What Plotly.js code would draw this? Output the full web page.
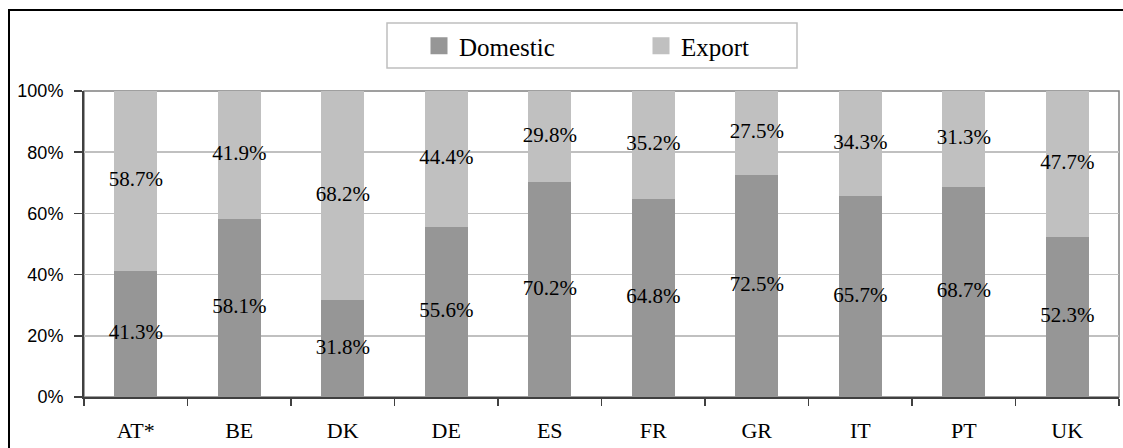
<!DOCTYPE html>
<html>
<head>
<meta charset="utf-8">
<script src="https://cdn.plot.ly/plotly-3.0.1.min.js"></script>
<style>
  html, body { margin: 0; padding: 0; background: #fff; overflow: hidden; }
  #chart { position: absolute; left: 0; top: 0; width: 1123px; height: 448px; }
  #frame { position: absolute; left: 8px; top: 9px; width: 1140px; height: 470px;
           border-left: 2px solid #000; border-top: 2px solid #000; pointer-events: none; }
</style>
</head>
<body>
<div id="chart"></div>
<div id="frame"></div>
<script>
const countries = ["AT*", "BE", "DK", "DE", "ES", "FR", "GR", "IT", "PT", "UK"];
const domestic = [41.3, 58.1, 31.8, 55.6, 70.2, 64.8, 72.5, 65.7, 68.7, 52.3];
const exportShare = [58.7, 41.9, 68.2, 44.4, 29.8, 35.2, 27.5, 34.3, 31.3, 47.7];
const seriesNames = ["Domestic", "Export"];
const seriesColors = ["#969696", "#c0c0c0"];
const yTickVals = [0, 20, 40, 60, 80, 100];
const yTickText = ["0%", "20%", "40%", "60%", "80%", "100%"];

const serif = "Liberation Serif, Times New Roman, serif";
const sans = "Liberation Sans, Arial, sans-serif";

const domMid = domestic.map(d => d / 2);
const expMid = domestic.map((d, i) => d + exportShare[i] / 2);
const fmt = v => v.toFixed(1) + "%";

const traces = [
  { type: "bar", name: seriesNames[0], x: countries, y: domestic, showlegend: false,
    marker: { color: seriesColors[0] }, hoverinfo: "skip" },
  { type: "bar", name: seriesNames[1], x: countries, y: exportShare, showlegend: false,
    marker: { color: seriesColors[1] }, hoverinfo: "skip" },
  // legend entries (no data drawn) so the legend swatches can be larger squares
  { type: "bar", name: seriesNames[0], x: [countries[0]], y: [null], showlegend: true,
    marker: { color: seriesColors[0], line: { color: seriesColors[0], width: 8 } }, hoverinfo: "skip" },
  { type: "bar", name: seriesNames[1], x: [countries[0]], y: [null], showlegend: true,
    marker: { color: seriesColors[1], line: { color: seriesColors[1], width: 8 } }, hoverinfo: "skip" },
  { type: "scatter", mode: "text", x: countries, y: domMid, text: domestic.map(fmt),
    textfont: { family: serif, size: 21, color: "#000" }, showlegend: false,
    cliponaxis: false, hoverinfo: "skip" },
  { type: "scatter", mode: "text", x: countries, y: expMid, text: exportShare.map(fmt),
    textfont: { family: serif, size: 21, color: "#000" }, showlegend: false,
    cliponaxis: false, hoverinfo: "skip" }
];

const layout = {
  width: 1123, height: 448,
  margin: { l: 84, r: 4, t: 91, b: 51 },
  paper_bgcolor: "#fff", plot_bgcolor: "#fff",
  barmode: "stack", bargap: 0.585,
  showlegend: true,
  legend: {
    orientation: "h", xref: "container", yref: "container",
    x: 419 / 1123, xanchor: "left", y: 1 - 46 / 448, yanchor: "middle",
    font: { family: serif, size: 25, color: "#000" },
    bgcolor: "rgba(0,0,0,0)", borderwidth: 0,
    entrywidth: 177, entrywidthmode: "pixels", traceorder: "normal"
  },
  xaxis: {
    type: "category", tickson: "boundaries", ticks: "outside", ticklen: 7, tickwidth: 1.5,
    tickcolor: "#404040", showline: true, linecolor: "#404040", linewidth: 2,
    showgrid: false, zeroline: false, ticklabelstandoff: 13,
    tickfont: { family: serif, size: 22, color: "#000" }
  },
  yaxis: {
    range: [0, 100], tickvals: yTickVals, ticktext: yTickText,
    ticks: "outside", ticklen: 8, tickwidth: 1.5, tickcolor: "#404040",
    showline: true, linecolor: "#404040", linewidth: 2,
    showgrid: true, gridcolor: "#c0c0c0", gridwidth: 1.5, zeroline: false,
    ticklabelstandoff: 7,
    tickfont: { family: sans, size: 18, color: "#000" }
  },
  shapes: [
    { type: "rect", xref: "paper", yref: "paper", x0: 0, x1: 1, y0: 0, y1: 1,
      line: { color: "#808080", width: 1.5 }, layer: "below" },
    { type: "rect", xref: "paper", yref: "paper",
      x0: (387 - 84) / 1035, x1: (797 - 84) / 1035,
      y0: 1 + (91 - 68) / 306, y1: 1 + (91 - 23) / 306,
      line: { color: "#bfbfbf", width: 1.5 }, layer: "below" }
  ]
};

Plotly.newPlot("chart", traces, layout, { staticPlot: true, displayModeBar: false });
</script>
</body>
</html>
